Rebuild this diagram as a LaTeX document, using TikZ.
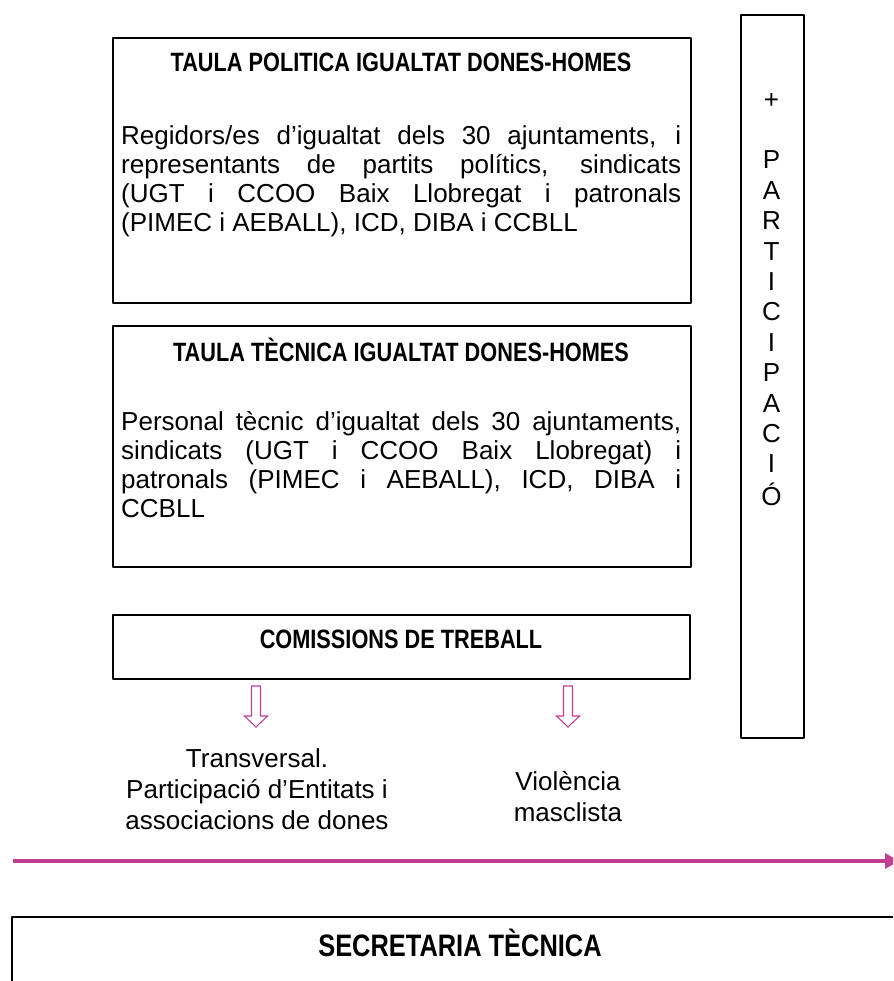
\documentclass[tikz,border=0pt]{standalone}
\usepackage{fontspec}
\setmainfont{Liberation Sans}
\newfontfamily\narrowfont[FakeStretch=0.82]{Liberation Sans}
\usetikzlibrary{arrows.meta}
\definecolor{rosa}{RGB}{192,64,148}
\tikzset{
	caixa/.style={draw, line width=1.6pt, inner sep=0pt, anchor=north west},
	titol/.style={font=\narrowfont\bfseries\fontsize{26.5}{30}\selectfont, anchor=base, inner sep=0pt},
	cos/.style={font=\fontsize{26}{29}\selectfont, text width=560pt, align=justify, anchor=north west, inner sep=0pt},
	lletra/.style={font=\fontsize{26}{29}\selectfont, inner sep=0pt},
	comissio/.style={font=\fontsize{26}{31}\selectfont, align=center, inner sep=0pt},
	fletxa/.style={draw=rosa, line width=1.1pt, line join=miter}
}
\begin{document}
\begin{tikzpicture}[x=1pt,y=-1pt, line join=round]
	\useasboundingbox (0,0) rectangle (893,981);
	\clip (0,0) rectangle (893,981);
	% taula politica
	\node[caixa, minimum width=578pt, minimum height=265pt] (politica) at (112,37) {};
	\node[titol] (tpolitica) at (401,72) {TAULA POLITICA IGUALTAT DONES-HOMES};
	\node[cos] (cpolitica) at (121,125) {Regidors/es d’igualtat dels 30 ajuntaments, i\linebreak representants de partits polítics, sindicats\linebreak (UGT i CCOO Baix Llobregat i patronals\linebreak (PIMEC i AEBALL), ICD, DIBA i CCBLL};
	% taula tecnica
	\node[caixa, minimum width=578pt, minimum height=241pt] (tecnica) at (112,325) {};
	\node[titol] (ttecnica) at (401,361) {TAULA TÈCNICA IGUALTAT DONES-HOMES};
	\node[cos] (ctecnica) at (121,411) {Personal tècnic d’igualtat dels 30 ajuntaments,\linebreak sindicats (UGT i CCOO Baix Llobregat) i\linebreak patronals (PIMEC i AEBALL), ICD, DIBA i\linebreak CCBLL};
	% comissions
	\node[caixa, minimum width=577pt, minimum height=64pt] (comissions) at (112,614) {};
	\node[titol] (tcomissions) at (401,648) {COMISSIONS DE TREBALL};
	\foreach \ax in {256,568}
		\draw[fletxa] (\ax-4.5,686) -- (\ax+4.5,686) -- (\ax+4.5,716) -- (\ax+11.5,716) -- (\ax,727) -- (\ax-11.5,716) -- (\ax-4.5,716) -- cycle;
	\node[comissio] (transversal) at (257,789) {Transversal.\\Participació d’Entitats i\\associacions de dones};
	\node[comissio] (violencia) at (568,797) {Violència\\masclista};
	% participacio
	\node[caixa, minimum width=63pt, minimum height=723pt] (participacio) at (740,14) {};
	\node[lletra] (mes) at (771.5,101) {+};
	\foreach \l [count=\i] in {P,A,R,T,I,C,I,P,A,C,I,Ó}
		\node[lletra] (l\i) at (771.5,{160+(\i-1)*30.4}) {\l};
	% fletxa
	\coordinate (inici) at (13,861);
	\coordinate (fi) at (899,861);
	\draw[rosa, line width=4pt, -{Triangle[length=14pt,width=15pt]}] (inici) -- (fi);
	% secretaria
	\node[caixa, minimum width=950pt, minimum height=200pt] (secretaria) at (11,916) {};
	\node[titol, font=\narrowfont\bfseries\fontsize{31}{34}\selectfont] (tsecretaria) at (460,956) {SECRETARIA TÈCNICA};
\end{tikzpicture}
\end{document}
